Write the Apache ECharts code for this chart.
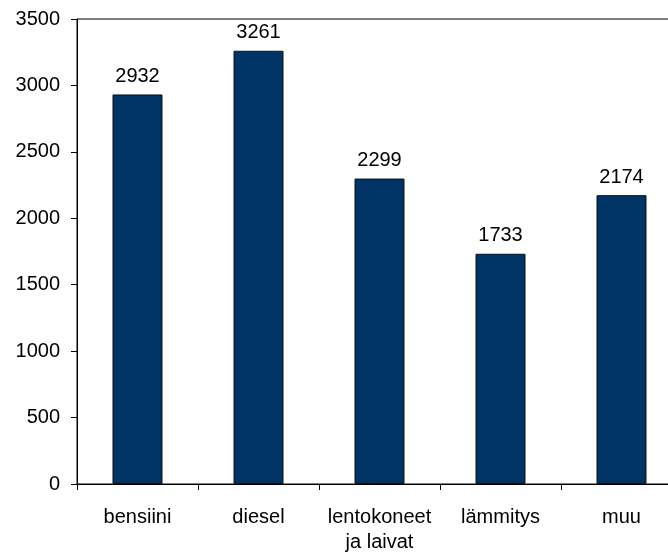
<!DOCTYPE html>
<html>
<head>
<meta charset="utf-8">
<script src="https://cdn.jsdelivr.net/npm/echarts@6/dist/echarts.min.js"></script>
<style>
  html, body { margin: 0; padding: 0; background: #ffffff; }
  #chart { width: 668px; height: 554px; }
</style>
</head>
<body>
<div id="chart"></div>
<script>
// Energy use by category
const categories = ['bensiini', 'diesel', 'lentokoneet\nja laivat', 'lämmitys', 'muu'];
const values = [2932, 3261, 2299, 1733, 2174];
const yTicks = { min: 0, max: 3500, interval: 500 };

const font = '"Liberation Sans", Arial, sans-serif';
const chart = echarts.init(document.getElementById('chart'), null, { renderer: 'canvas' });

chart.setOption({
  animation: false,
  backgroundColor: '#ffffff',
  grid: {
    left: 77, top: 19, width: 605, height: 465,
    outerBoundsMode: 'none',
    show: true, borderColor: '#000000', borderWidth: 1, backgroundColor: 'transparent'
  },
  xAxis: {
    type: 'category',
    data: categories,
    boundaryGap: true,
    axisLine: { lineStyle: { color: '#000000', width: 1 } },
    axisTick: { show: true, length: 6, alignWithLabel: false, lineStyle: { color: '#000000' } },
    axisLabel: {
      interval: 0, margin: 21, color: '#000000',
      fontFamily: font, fontSize: 20, lineHeight: 25
    },
    splitLine: { show: false }
  },
  yAxis: {
    type: 'value',
    min: yTicks.min, max: yTicks.max, interval: yTicks.interval,
    axisLine: { show: true, lineStyle: { color: '#000000', width: 1 } },
    axisTick: { show: true, length: 6, lineStyle: { color: '#000000' } },
    axisLabel: {
      margin: 17, color: '#000000', fontFamily: font, fontSize: 20,
      formatter: (v) => String(v)
    },
    splitLine: { show: false }
  },
  series: [{
    type: 'bar',
    data: values,
    barWidth: 50,
    itemStyle: { color: '#003366', borderColor: '#111111', borderWidth: 1 },
    label: {
      show: true, position: 'top', distance: 8,
      color: '#000000', fontFamily: font, fontSize: 20
    }
  }]
});
</script>
</body>
</html>
